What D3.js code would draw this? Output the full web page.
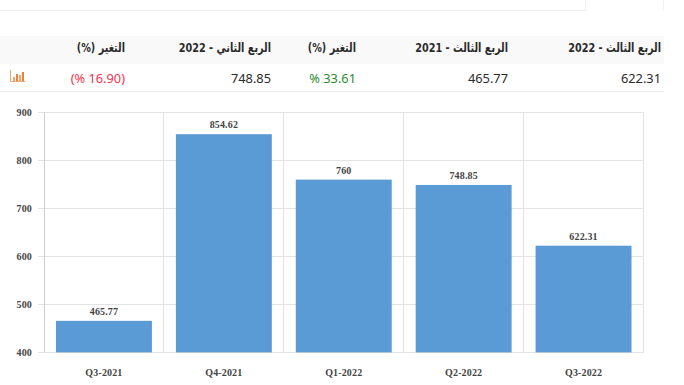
<!DOCTYPE html>
<html lang="ar">
<head>
<meta charset="utf-8">
<script src="https://cdnjs.cloudflare.com/ajax/libs/d3/7.8.5/d3.min.js"></script>
<style>
html,body{margin:0;padding:0;background:#fff;overflow:hidden}
svg{display:block}
.h{font:bold 13px "DejaVu Sans",sans-serif;fill:#2b2b2b}
.v{font:12.8px "Noto Sans","Open Sans",sans-serif;text-anchor:end}
.c{font:bold 10px "Liberation Serif",serif;fill:#444;letter-spacing:.15px}
</style>
</head>
<body>
<div id="chart"></div>
<script>
const categories = ["Q3-2021","Q4-2021","Q1-2022","Q2-2022","Q3-2022"];
const values = [465.77,854.62,760,748.85,622.31];
const valueLabels = ["465.77","854.62","760","748.85","622.31"];
const yTicks = [400,500,600,700,800,900];
const headers = ["الربع الثالث - 2022","الربع الثالث - 2021","التغير (%)","الربع الثاني - 2022","التغير (%)"];
const rowValues = ["622.31","465.77","% 33.61","748.85","(% 16.90)"];
const rowColors = ["#2b2b2b","#2b2b2b","#2e8b2e","#2b2b2b","#f8334d"];
const columnRight = [661,508,356,271,125];
const iconBars = [4,7,6,9];

const W=684,H=385;
const svg=d3.select("#chart").append("svg").attr("width",W).attr("height",H);

// top page fragments
svg.append("path").attr("d","M0 10.5H585.5V0M663.5 0V10").attr("fill","none").attr("stroke","#f0f0f0");

// table
svg.append("rect").attr("x",0).attr("y",36).attr("width",664).attr("height",28).attr("fill","#f9f9f9");
svg.append("line").attr("x1",0).attr("x2",664).attr("y1",91.5).attr("y2",91.5).attr("stroke","#eeeeee");
svg.selectAll(".h").data(headers).join("text").attr("class","h")
  .attr("direction","rtl").attr("text-anchor","start")
  .attr("transform",(d,i)=>`translate(${columnRight[i]},51.5) scale(.745,1)`).text(d=>d);
svg.selectAll(".v").data(rowValues).join("text").attr("class","v")
  .attr("x",(d,i)=>columnRight[i]).attr("y",83).style("fill",(d,i)=>rowColors[i]).text(d=>d);

// icon
const icon=svg.append("g").attr("transform","translate(10,70)");
icon.append("path").attr("d","M0.5 0V11.5H15").attr("fill","none").attr("stroke","#f2a56c");
icon.selectAll("rect").data(iconBars).join("rect")
  .attr("x",(d,i)=>3+i*3).attr("y",d=>11-d).attr("width",2).attr("height",d=>d)
  .attr("fill",(d,i)=>i%2?"#ee7f3a":"#f2a56c");

// chart
const x=d3.scaleBand().domain(categories).range([44,643.5]);
const y=d3.scaleLinear().domain([400,900]).range([352.4,112.4]);
const grid="#e3e3e3";
const g=svg.append("g");
g.selectAll(".gy").data(yTicks).join("line")
  .attr("x1",38).attr("x2",643.5).attr("y1",d=>Math.floor(y(d))+.5).attr("y2",d=>Math.floor(y(d))+.5).attr("stroke",grid);
const xEdges=categories.map(c=>x(c)).concat([x.range()[1]]);
g.selectAll(".gx").data(xEdges).join("line")
  .attr("x1",d=>Math.floor(d)+.5).attr("x2",d=>Math.floor(d)+.5).attr("y1",y(900)).attr("y2",y(400)).attr("stroke",(d,i)=>i==0?"#cfcfcf":grid);
g.selectAll(".bar").data(values).join("rect")
  .attr("x",(d,i)=>x(categories[i])+x.bandwidth()*.1)
  .attr("width",x.bandwidth()*.8)
  .attr("y",d=>y(d)).attr("height",d=>y(400)-y(d))
  .attr("fill","#5b9bd5");
g.selectAll(".dl").data(values).join("text").attr("class","c")
  .attr("text-anchor","middle")
  .attr("x",(d,i)=>x(categories[i])+x.bandwidth()/2).attr("y",d=>y(d)-6).text((d,i)=>valueLabels[i]);
g.selectAll(".yl").data(yTicks).join("text").attr("class","c")
  .attr("text-anchor","end").attr("x",32).attr("y",d=>y(d)+3.5).text(d=>d);
g.selectAll(".xl").data(categories).join("text").attr("class","c")
  .attr("text-anchor","middle").attr("x",d=>x(d)+x.bandwidth()/2).attr("y",376).text(d=>d);
</script>
</body>
</html>
